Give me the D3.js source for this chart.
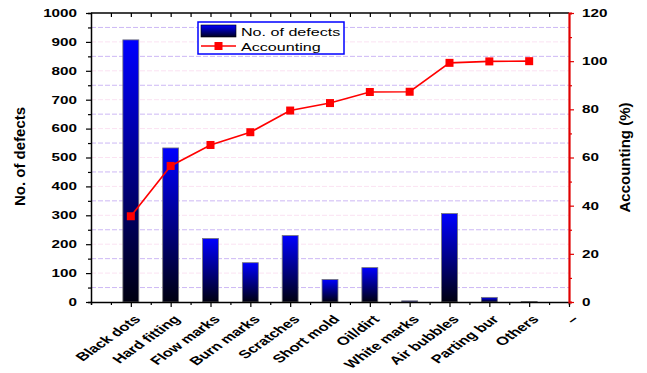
<!DOCTYPE html>
<html>
<head>
<meta charset="utf-8">
<script src="https://cdn.jsdelivr.net/npm/d3@7.9.0/dist/d3.min.js"></script>
<style>
  body { margin: 0; background: #fff; }
  svg { font-family: "Liberation Sans", Arial, sans-serif; font-weight: bold; }
</style>
</head>
<body>
<svg id="chart" width="647" height="373"></svg>
<script>
const categories = ['Black dots', 'Hard fitting', 'Flow marks', 'Burn marks', 'Scratches',
  'Short mold', 'Oil/dirt', 'White marks', 'Air bubbles', 'Parting bur', 'Others'];
const defects = [907, 533, 220, 136, 230, 78, 119, 4, 306, 16, 2];
const accounting = [35.6, 56.5, 65.2, 70.5, 79.5, 82.6, 87.2, 87.3, 99.3, 99.9, 100];
const leftTicks = d3.range(0, 1001, 100);
const rightTicks = d3.range(0, 121, 20);

const svg = d3.select('#chart');
const margin = { left: 91, right: 78, top: 13, bottom: 71 };
const W = 647, H = 373;
const SX = 1.45; // the original figure is stretched sideways

const x = d3.scaleLinear().domain([0, 12]).range([margin.left, W - margin.right]);
const y = d3.scaleLinear().domain([0, 1000]).range([H - margin.bottom, margin.top]);
const y2 = d3.scaleLinear().domain([0, 120]).range([H - margin.bottom, margin.top]);

// bar gradient: blue top, black bottom
const defs = svg.append('defs');
const grad = defs.append('linearGradient')
    .attr('id', 'barGrad')
    .attr('x1', 0).attr('y1', 0).attr('x2', 0).attr('y2', 1);
grad.append('stop').attr('offset', '0%').attr('stop-color', '#0000ff');
grad.append('stop').attr('offset', '100%').attr('stop-color', '#000010');

const legGrad = defs.append('linearGradient')
    .attr('id', 'legGrad')
    .attr('x1', 0).attr('y1', 0).attr('x2', 0).attr('y2', 1);
legGrad.append('stop').attr('offset', '0%').attr('stop-color', '#0000ff');
legGrad.append('stop').attr('offset', '100%').attr('stop-color', '#000020');

// grid lines
const grid = svg.append('g');
d3.range(50, 1000, 50).forEach(v => {
    const major = v % 100 === 0;
    grid.append('line')
        .attr('x1', x(0)).attr('x2', x(12))
        .attr('y1', y(v)).attr('y2', y(v))
        .attr('stroke', major ? '#fbe2f2' : '#cdb8f5')
        .attr('stroke-width', 1)
        .attr('stroke-dasharray', '5,2');
});

// bars
const bw = x(0.4) - x(0);
svg.append('g').selectAll('rect')
    .data(defects)
    .join('rect')
    .attr('x', (d, i) => x(i + 1) - bw / 2)
    .attr('y', d => y(d))
    .attr('width', bw)
    .attr('height', d => y(0) - y(d))
    .attr('fill', 'url(#barGrad)')
    .attr('stroke', '#777')
    .attr('stroke-width', 0.8);

// line + markers
const line = d3.line()
    .x((d, i) => x(i + 1))
    .y(d => y2(d));
svg.append('path')
    .datum(accounting)
    .attr('d', line)
    .attr('fill', 'none')
    .attr('stroke', '#ff0000')
    .attr('stroke-width', 1.6);
svg.append('g').selectAll('rect')
    .data(accounting)
    .join('rect')
    .attr('x', (d, i) => x(i + 1) - 4)
    .attr('y', d => y2(d) - 4)
    .attr('width', 8).attr('height', 8)
    .attr('fill', '#ff0000');

// top frame
svg.append('line')
    .attr('x1', x(0)).attr('x2', x(12))
    .attr('y1', margin.top).attr('y2', margin.top)
    .attr('stroke', '#000').attr('stroke-width', 1.5);
svg.append('g')
    .attr('transform', `translate(0,${margin.top})`)
    .call(d3.axisTop(x).tickValues(d3.range(0.5, 12, 0.5)).tickSize(-4).tickFormat(''))
    .call(g => g.select('.domain').remove())
    .call(g => g.selectAll('line').attr('stroke-width', 1.2));

// bottom axis
const xAxis = svg.append('g')
    .attr('transform', `translate(0,${y(0)})`);
xAxis.call(d3.axisBottom(x).tickValues(d3.range(0.5, 12, 1)).tickSize(3).tickFormat(''))
    .call(g => g.select('.domain').attr('stroke-width', 1.5))
    .call(g => g.selectAll('line').attr('stroke-width', 1.2));
const tickLabels = categories.concat(['\u2013']);
xAxis.append('g')
    .call(d3.axisBottom(x).tickValues(d3.range(1, 13)).tickSize(5)
        .tickFormat(d => tickLabels[d - 1]))
    .call(g => g.select('.domain').remove())
    .call(g => g.selectAll('line').attr('stroke-width', 1.2))
    .call(g => g.selectAll('text')
        .attr('font-size', 11.5)
        .attr('font-weight', 'bold')
        .attr('fill', '#000')
        .attr('text-anchor', 'end')
        .attr('x', 0).attr('y', 0).attr('dy', 0)
        .attr('transform', `translate(10,18) scale(${SX},1) rotate(-46)`));

// left axis
const yAxis = svg.append('g')
    .attr('transform', `translate(${x(0)},0)`);
yAxis.call(d3.axisLeft(y).tickValues(d3.range(50, 1000, 100)).tickSize(3).tickFormat(''))
    .call(g => g.select('.domain').attr('stroke-width', 1.5))
    .call(g => g.selectAll('line').attr('stroke-width', 1.2));
yAxis.append('g')
    .call(d3.axisLeft(y).tickValues(leftTicks).tickSize(5).tickFormat(d3.format('d')))
    .call(g => g.select('.domain').remove())
    .call(g => g.selectAll('line').attr('stroke-width', 1.2))
    .call(g => g.selectAll('text')
        .attr('font-size', 10.5).attr('font-weight', 'bold').attr('fill', '#000')
        .attr('x', 0)
        .attr('transform', `translate(-14,0) scale(${SX},1)`));

// right axis
const rAxis = svg.append('g')
    .attr('transform', `translate(${x(12)},0)`)
    .attr('color', '#e00000');
rAxis.call(d3.axisRight(y2).tickValues(d3.range(10, 120, 20)).tickSize(3).tickFormat(''))
    .call(g => g.select('.domain').attr('stroke-width', 2.2))
    .call(g => g.selectAll('line').attr('stroke-width', 1.2));
rAxis.append('g')
    .call(d3.axisRight(y2).tickValues(rightTicks).tickSize(5))
    .call(g => g.select('.domain').remove())
    .call(g => g.selectAll('line').attr('stroke-width', 1.2))
    .call(g => g.selectAll('text')
        .attr('font-size', 10.5).attr('font-weight', 'bold').attr('fill', '#000')
        .attr('x', 0)
        .attr('transform', `translate(13,0) scale(${SX},1)`));

// axis titles
svg.append('text')
    .attr('transform', `translate(25,${(y(0) + y(1000)) / 2 - 1}) rotate(-90)`)
    .attr('text-anchor', 'middle')
    .attr('font-size', 15)
    .text('No. of defects');
svg.append('text')
    .attr('transform', `translate(630,${(y(0) + y(1000)) / 2}) rotate(-90)`)
    .attr('text-anchor', 'middle')
    .attr('font-size', 15)
    .text('Accounting (%)');

// legend
const leg = svg.append('g').attr('transform', 'translate(198,22)');
leg.append('rect')
    .attr('width', 146).attr('height', 32)
    .attr('fill', '#fff')
    .attr('stroke', '#0000ff').attr('stroke-width', 1.5);
leg.append('rect')
    .attr('x', 3).attr('y', 3).attr('width', 35).attr('height', 12)
    .attr('fill', 'url(#legGrad)')
    .attr('stroke', '#000').attr('stroke-width', 0.6);
leg.append('text')
    .attr('transform', `translate(43,13.5) scale(1.4,1)`)
    .attr('font-size', 11.5).attr('font-weight', 'normal')
    .text('No. of defects');
leg.append('line')
    .attr('x1', 3).attr('x2', 38).attr('y1', 24).attr('y2', 24)
    .attr('stroke', '#ff0000').attr('stroke-width', 1.6);
leg.append('rect')
    .attr('x', 16.5).attr('y', 20).attr('width', 8).attr('height', 8)
    .attr('fill', '#ff0000');
leg.append('text')
    .attr('transform', `translate(43,28.5) scale(1.4,1)`)
    .attr('font-size', 11.5).attr('font-weight', 'normal')
    .text('Accounting');
</script>
</body>
</html>
